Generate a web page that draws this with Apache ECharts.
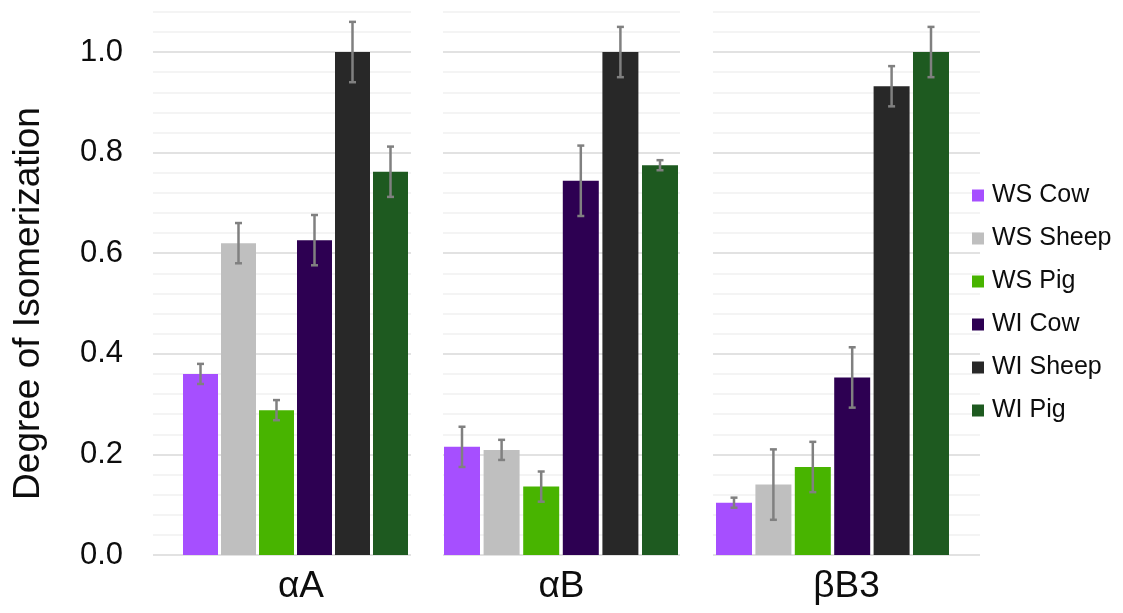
<!DOCTYPE html>
<html>
<head>
<meta charset="utf-8">
<script src="https://cdn.jsdelivr.net/npm/echarts@6/dist/echarts.min.js"></script>
<style>
html,body{margin:0;padding:0;background:#fff;}
#chart{width:1123px;height:613px;}
</style>
</head>
<body>
<div id="chart"></div>
<script>
// ---- data ----
const categories = ['αA', 'αB', 'βB3'];
const seriesNames = ['WS Cow', 'WS Sheep', 'WS Pig', 'WI Cow', 'WI Sheep', 'WI Pig'];
const wsCow   = [0.360, 0.215, 0.104];
const wsSheep = [0.620, 0.209, 0.140];
const wsPig   = [0.288, 0.136, 0.175];
const wiCow   = [0.626, 0.744, 0.353];
const wiSheep = [1.000, 1.000, 0.932];
const wiPig   = [0.762, 0.775, 1.000];
const wsCowErr   = [0.020, 0.040, 0.010];
const wsSheepErr = [0.040, 0.020, 0.070];
const wsPigErr   = [0.020, 0.030, 0.050];
const wiCowErr   = [0.050, 0.070, 0.060];
const wiSheepErr = [0.060, 0.050, 0.040];
const wiPigErr   = [0.050, 0.010, 0.050];
const yTickValues = [0.0, 0.2, 0.4, 0.6, 0.8, 1.0];

// ---- styling / layout ----
const values = [wsCow, wsSheep, wsPig, wiCow, wiSheep, wiPig];
const errors = [wsCowErr, wsSheepErr, wsPigErr, wiCowErr, wiSheepErr, wiPigErr];
const colors = ['#A64FFF', '#BFBFBF', '#48B400', '#2D0052', '#282828', '#1E5A20'];
const FONT = '"Liberation Sans", Arial, sans-serif';
const TOP = 11.8, HEIGHT = 543.2;
const panels = [
  {gl: 153, gw: 258, bl: 183, bw: 225, barW: 35, labelShift: 38},
  {gl: 443, gw: 237, bl: 444, bw: 234, barW: 36, labelShift: 0},
  {gl: 713, gw: 267, bl: 716, bw: 233, barW: 36, labelShift: 0}
];

const grid = [], xAxis = [], yAxis = [], series = [];
panels.forEach((p, k) => {
  grid.push({left: p.gl, width: p.gw, top: TOP, height: HEIGHT});
});
panels.forEach((p, k) => {
  grid.push({left: p.bl, width: p.bw, top: TOP, height: HEIGHT});
});
panels.forEach((p, k) => {
  xAxis.push({
    type: 'category', gridIndex: k, data: [categories[k]],
    axisLine: {show: false}, axisTick: {show: false}, splitLine: {show: false},
    axisLabel: {fontSize: 37, fontFamily: FONT, color: '#0d0d0d', margin: 13,
      padding: [0, 0, 0, p.labelShift]}
  });
  yAxis.push({
    type: 'value', gridIndex: k, min: 0, max: 1.08, interval: 0.04,
    axisLine: {show: false}, axisTick: {show: false},
    axisLabel: {show: k === 0, fontSize: 31, fontFamily: FONT, color: '#0d0d0d', margin: 30,
      formatter: v => {
        const hit = yTickValues.find(t => Math.abs(t - v) < 1e-6);
        return hit === undefined ? '' : hit.toFixed(1);
      }},
    splitLine: {show: true, lineStyle: {width: 1.5,
      color: ['#D9D9D9', '#F0F0F0', '#F0F0F0', '#F0F0F0', '#F0F0F0']}}
  });
});
panels.forEach((p, k) => {
  xAxis.push({type: 'category', gridIndex: 3 + k, data: [categories[k]], show: false});
  yAxis.push({type: 'value', gridIndex: 3 + k, min: 0, max: 1.08, show: false, splitLine: {show: false}});
});

panels.forEach((p, k) => {
  const gapRatio = (p.bw - 6 * p.barW) / 5 / p.barW;
  seriesNames.forEach((name, s) => {
    series.push({
      type: 'bar', name: name, xAxisIndex: 3 + k, yAxisIndex: 3 + k,
      data: [values[s][k]], barWidth: p.barW, barGap: (gapRatio * 100).toFixed(2) + '%',
      itemStyle: {color: colors[s]}, z: 2
    });
  });
  const step = (p.bw - p.barW) / 5;
  series.push({
    type: 'custom', xAxisIndex: 3 + k, yAxisIndex: 3 + k, z: 5,
    encode: {x: 0, y: 1},
    data: seriesNames.map((n, s) => [0, values[s][k], errors[s][k], s]),
    renderItem: (params, api) => {
      const v = api.value(1), e = api.value(2), s = api.value(3);
      const cx = api.coord([0, v])[0] + (s - 2.5) * step;
      const yT = api.coord([0, v + e])[1];
      const yB = api.coord([0, v - e])[1];
      const st = {stroke: '#808080', lineWidth: 2.5};
      const cap = 3.5;
      return {type: 'group', children: [
        {type: 'line', shape: {x1: cx, y1: yT, x2: cx, y2: yB}, style: st},
        {type: 'line', shape: {x1: cx - cap, y1: yT, x2: cx + cap, y2: yT}, style: st},
        {type: 'line', shape: {x1: cx - cap, y1: yB, x2: cx + cap, y2: yB}, style: st}
      ]};
    }
  });
});

const chart = echarts.init(document.getElementById('chart'), null, {renderer: 'canvas'});
chart.setOption({
  animation: false,
  backgroundColor: '#fff',
  grid: grid, xAxis: xAxis, yAxis: yAxis, series: series,
  legend: {
    data: seriesNames, orient: 'vertical', left: 972, top: 183, padding: 0,
    itemWidth: 12, itemHeight: 12, itemGap: 18, icon: 'rect',
    textStyle: {fontSize: 25, fontFamily: FONT, color: '#0d0d0d', lineHeight: 25, padding: [0, 0, 0, 3]}
  },
  graphic: [{
    type: 'text', x: 29, y: 303.5, rotation: Math.PI / 2,
    style: {text: 'Degree of Isomerization', fontSize: 37, fontFamily: FONT, fill: '#0d0d0d',
      align: 'center', verticalAlign: 'middle'}
  }]
});
</script>
</body>
</html>
